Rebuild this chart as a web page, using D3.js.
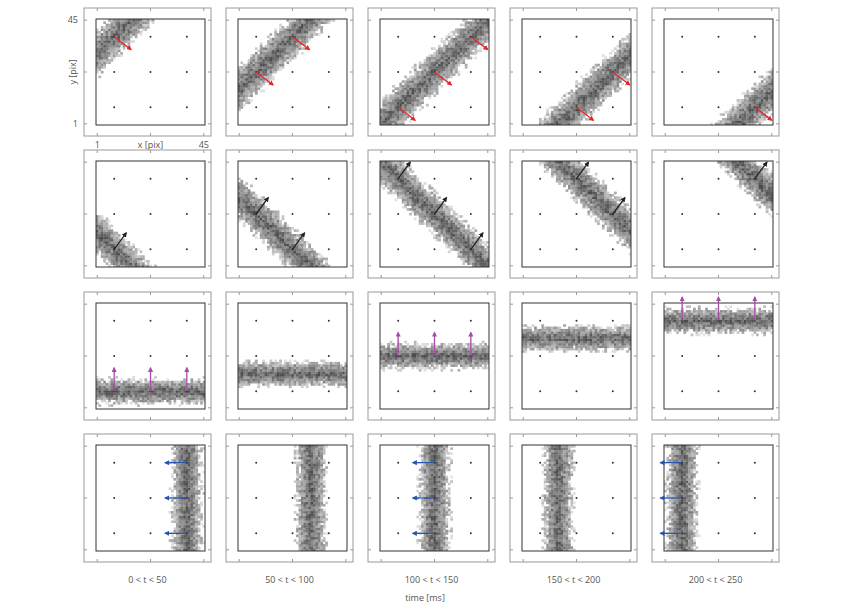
<!DOCTYPE html><html><head><meta charset="utf-8"><script src="https://cdn.jsdelivr.net/npm/d3@7"></script>
<style>body{margin:0;background:#fff}text{font-family:"Open Sans",sans-serif;fill:#555}</style></head><body><svg id="c" width="850" height="616"></svg>
<script>
const timeLabels=["0 < t < 50","50 < t < 100","100 < t < 150","150 < t < 200","200 < t < 250"];
const rowTypes=["diagUp","diagDown","horiz","vert"];
const rowOffsets=[[30,15,0,-15,-30],[16,31,46,61,76],[8,15.5,23,30.5,38],[38,30.5,23,15.5,8]];
const rowHalf=[9.5,9,4.5,5.5];
const arrowColors=["#e8262a","#222","#a64ca6","#2456b0"];
const arrowVec=[[7,-5.5],[5,7],[0,10],[-9,0]];
const dotPos=[8,23,38];
const axisTicks=[1,23,45];

const svg=d3.select("#c");
const colX=[84,226,368,510,652], rowY=[8,150,292,434];
const OW=127,OH=128,IX=12,IY=11,IW=109,IH=106;
const x=d3.scaleLinear().domain([0.5,45.5]).range([0,IW]);
const y=d3.scaleLinear().domain([0.5,45.5]).range([IH,0]);
const defs=svg.append("defs");
arrowColors.forEach((c,i)=>{
 defs.append("marker").attr("id","m"+i).attr("viewBox","0 0 10 10").attr("refX",8).attr("refY",5)
 .attr("markerWidth",4).attr("markerHeight",4).attr("orient","auto")
 .append("path").attr("d","M0,0L10,5L0,10z").attr("fill",c);
});
defs.append("clipPath").attr("id","inner").append("rect").attr("width",IW).attr("height",IH);
function h(a,b,c){let n=Math.sin(a*127.1+b*311.7+c*74.7)*43758.5453;return n-Math.floor(n);}
function dist(t,off,cx,cy){
 if(t==="diagUp")return Math.abs(cy-cx-off);
 if(t==="diagDown")return Math.abs(cy+cx-off);
 if(t==="horiz")return Math.abs(cy-off);
 return Math.abs(cx-off);
}
rowTypes.forEach((t,r)=>{
 rowOffsets[r].forEach((off,c)=>{
  const g=svg.append("g").attr("transform",`translate(${colX[c]},${rowY[r]})`);
  g.append("rect").attr("width",OW).attr("height",OH).attr("fill","none").attr("stroke","#999").attr("stroke-width",1);
  const ig=g.append("g").attr("transform",`translate(${IX},${IY})`);
  axisTicks.forEach(v=>{
   const px=IX+x(v),py=IY+y(v);
   g.append("line").attr("x1",px).attr("x2",px).attr("y1",0).attr("y2",3).attr("stroke","#999");
   g.append("line").attr("x1",px).attr("x2",px).attr("y1",OH).attr("y2",OH-3).attr("stroke","#999");
   g.append("line").attr("y1",py).attr("y2",py).attr("x1",0).attr("x2",3).attr("stroke","#999");
   g.append("line").attr("y1",py).attr("y2",py).attr("x1",OW).attr("x2",OW-3).attr("stroke","#999");
  });
  const cells=[];
  const hw=rowHalf[r];
  for(let i=1;i<=45;i++)for(let j=1;j<=45;j++){
   const d=dist(t,off,i,j);
   if(d>hw+1.5)continue;
   const n=h(i+c*50,j+r*50,1);
   const p=1-d/(hw+1.5);
   if(n>p*2+0.15)continue;
   const v=Math.max(0,Math.min(1,p*0.75+h(i,j,c*7+r)*0.5-0.15));
   cells.push({i,j,g:Math.round(225-v*150)});
  }
  ig.append("g").attr("clip-path","url(#inner)").selectAll("rect").data(cells).join("rect")
   .attr("x",d=>x(d.i-0.5)).attr("y",d=>y(d.j+0.5)).attr("width",x(1.5)-x(0.5)+0.3).attr("height",y(0.5)-y(1.5)+0.3)
   .attr("fill",d=>`rgb(${d.g},${d.g},${d.g})`);
  ig.append("rect").attr("width",IW).attr("height",IH).attr("fill","none").attr("stroke","#333").attr("stroke-width",1);
  const dots=[];dotPos.forEach(a=>dotPos.forEach(b=>dots.push([a,b])));
  ig.selectAll("circle").data(dots).join("circle").attr("cx",d=>x(d[0])).attr("cy",d=>y(d[1])).attr("r",1).attr("fill","#333");
  const on=dots.filter(d=>dist(t,off,d[0],d[1])<1);
  const [vx,vy]=arrowVec[r];
  ig.selectAll("line.ar").data(on).join("line").attr("class","ar")
   .attr("x1",d=>x(d[0])).attr("y1",d=>y(d[1])).attr("x2",d=>x(d[0]+vx)).attr("y2",d=>y(d[1]+vy))
   .attr("stroke",arrowColors[r]).attr("stroke-width",1.3).attr("marker-end",`url(#m${r})`);
 });
});
svg.selectAll("text.tl").data(timeLabels).join("text").attr("class","tl")
 .attr("x",(d,i)=>colX[i]+OW/2).attr("y",583).attr("text-anchor","middle").attr("font-size",9).text(d=>d);
svg.append("text").attr("x",425).attr("y",601).attr("text-anchor","middle").attr("font-size",9).text("time [ms]");
const g0x=colX[0]+IX,g0y=rowY[0]+IY;
svg.append("text").attr("x",g0x+x(1)).attr("y",148).attr("text-anchor","middle").attr("font-size",9).text("1");
svg.append("text").attr("x",g0x+x(45)).attr("y",148).attr("text-anchor","middle").attr("font-size",9).text("45");
svg.append("text").attr("x",g0x+x(23)).attr("y",148).attr("text-anchor","middle").attr("font-size",9).text("x [pix]");
svg.append("text").attr("x",78).attr("y",g0y+y(45)+3).attr("text-anchor","end").attr("font-size",9).text("45");
svg.append("text").attr("x",78).attr("y",g0y+y(1)+3).attr("text-anchor","end").attr("font-size",9).text("1");
svg.append("text").attr("transform",`translate(76,${g0y+y(23)}) rotate(-90)`).attr("text-anchor","middle").attr("font-size",9).text("y [pix]");
</script></body></html>
